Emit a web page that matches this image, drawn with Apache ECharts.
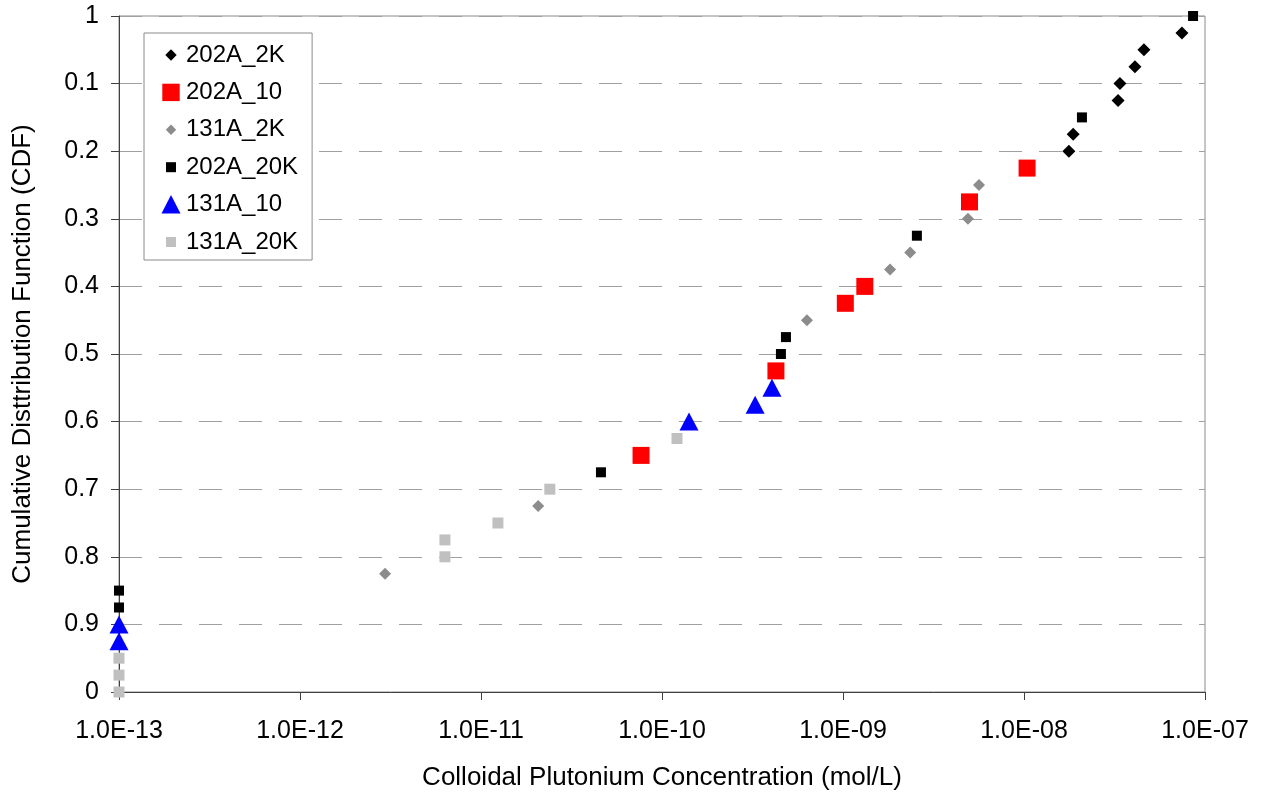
<!DOCTYPE html>
<html>
<head>
<meta charset="utf-8">
<title>Colloidal Plutonium Concentration CDF</title>
<script src="https://cdn.jsdelivr.net/npm/echarts@6/dist/echarts.min.js"></script>
<style>
  html, body { margin: 0; padding: 0; background: #fff; }
  #chart { width: 1265px; height: 794px; }
</style>
</head>
<body>
<div id="chart"></div>
<script>
// Colloidal plutonium concentration (mol/L) and cumulative distribution value per realization set
const x202A_2K = [7.46e-8, 4.60e-8, 4.10e-8, 3.39e-8, 3.31e-8, 1.87e-8, 1.77e-8];
const y202A_2K = [0.025, 0.05, 0.075, 0.1, 0.125, 0.175, 0.2];

const x202A_10 = [1.04e-8, 5.0e-9, 1.32e-9, 1.03e-9, 4.26e-10, 7.66e-11];
const y202A_10 = [0.225, 0.275, 0.4, 0.425, 0.525, 0.65];

const x131A_2K = [5.64e-9, 4.9e-9, 2.35e-9, 1.82e-9, 6.32e-10, 2.07e-11, 2.95e-12];
const y131A_2K = [0.25, 0.3, 0.35, 0.375, 0.45, 0.725, 0.825];

const x202A_20K = [8.59e-8, 2.09e-8, 2.56e-9, 4.84e-10, 4.54e-10, 4.60e-11, 1e-13, 1e-13];
const y202A_20K = [0, 0.15, 0.325, 0.475, 0.5, 0.675, 0.85, 0.875];

const x131A_10 = [4.05e-10, 3.27e-10, 1.41e-10, 1e-13, 1e-13];
const y131A_10 = [0.55, 0.575, 0.6, 0.9, 0.925];

const x131A_20K = [1.21e-10, 2.40e-11, 1.24e-11, 6.32e-12, 6.32e-12, 1e-13, 1e-13, 1e-13];
const y131A_20K = [0.625, 0.7, 0.75, 0.775, 0.8, 0.95, 0.975, 1];

// Tick labels of the CDF axis, top to bottom
const yTickLabels = ['1', '0.1', '0.2', '0.3', '0.4', '0.5', '0.6', '0.7', '0.8', '0.9', '0'];

const FONT = "'Liberation Sans', Arial, sans-serif";

function pairs(xs, ys) {
  return xs.map((x, i) => [x, ys[i]]);
}

function sciLabel(v) {
  const e = Math.round(Math.log10(v));
  const m = v / Math.pow(10, e);
  const sign = e < 0 ? '-' : '+';
  const digits = String(Math.abs(e)).padStart(2, '0');
  return m.toFixed(1) + 'E' + sign + digits;
}

// Legend glyphs: shapes inside a fixed 20x20 box so they keep their relative sizes
const box = 'M0,0M20,20';
const icons = {
  diamondBig: 'path://' + box + 'M10,4.3L15.7,10L10,15.7L4.3,10Z',
  diamondSmall: 'path://' + box + 'M10,4.8L15.2,10L10,15.2L4.8,10Z',
  rectBig: 'path://' + box + 'M1.3,1.3L18.7,1.3L18.7,18.7L1.3,18.7Z',
  rectSmall: 'path://' + box + 'M5,5L15,5L15,15L5,15Z',
  triangle: 'path://' + box + 'M10,0.5L19.5,19L0.5,19Z'
};

const seriesDefs = [
  { name: '202A_2K', data: pairs(x202A_2K, y202A_2K), symbol: 'diamond', size: 13, color: '#000000', icon: icons.diamondBig },
  { name: '202A_10', data: pairs(x202A_10, y202A_10), symbol: 'rect', size: 17, color: '#ff0000', icon: icons.rectBig },
  { name: '131A_2K', data: pairs(x131A_2K, y131A_2K), symbol: 'diamond', size: 12, color: '#8c8c8c', icon: icons.diamondSmall },
  { name: '202A_20K', data: pairs(x202A_20K, y202A_20K), symbol: 'rect', size: 10, color: '#000000', icon: icons.rectSmall },
  { name: '131A_10', data: pairs(x131A_10, y131A_10), symbol: 'triangle', size: [19, 18], color: '#0000ff', icon: icons.triangle },
  { name: '131A_20K', data: pairs(x131A_20K, y131A_20K), symbol: 'rect', size: 11, color: '#c0c0c0', icon: icons.rectSmall }
];

const chart = echarts.init(document.getElementById('chart'), null, { renderer: 'canvas' });

chart.setOption({
  animation: false,
  backgroundColor: '#ffffff',
  textStyle: { fontFamily: FONT },
  grid: {
    left: 119, right: 60, top: 16, bottom: 102,
    containLabel: false,
    outerBoundsMode: 'none',
    show: true, borderColor: '#8a8a8a', borderWidth: 1, backgroundColor: 'transparent'
  },
  legend: {
    orient: 'vertical',
    left: 144, top: 33,
    padding: [10, 14, 6, 17],
    itemWidth: 20, itemHeight: 20, itemGap: 13.4,
    backgroundColor: '#ffffff',
    borderColor: '#8a8a8a', borderWidth: 1,
    textStyle: { fontFamily: FONT, fontSize: 24, color: '#000', lineHeight: 24 },
    data: seriesDefs.map(s => ({ name: s.name, icon: s.icon }))
  },
  xAxis: {
    type: 'log',
    logBase: 10,
    min: 1e-13,
    max: 1e-7,
    name: 'Colloidal Plutonium Concentration (mol/L)',
    nameLocation: 'middle',
    nameGap: 73,
    nameTextStyle: { fontFamily: FONT, fontSize: 26, color: '#000' },
    axisLine: { show: true, onZero: false, lineStyle: { color: '#404040', width: 1 } },
    axisTick: { show: true, inside: false, length: 8, lineStyle: { color: '#404040' } },
    axisLabel: {
      fontFamily: FONT, fontSize: 25, color: '#000', margin: 27,
      formatter: sciLabel
    },
    splitLine: { show: false },
    minorTick: { show: false }
  },
  yAxis: {
    type: 'value',
    inverse: true,
    min: 0,
    max: 1,
    interval: 0.1,
    name: 'Cumulative Disttribution Function (CDF)',
    nameLocation: 'middle',
    nameGap: 83,
    nameTextStyle: { fontFamily: FONT, fontSize: 26, color: '#000' },
    axisLine: { show: true, onZero: false, lineStyle: { color: '#404040', width: 1 } },
    axisTick: { show: true, inside: false, length: 8, lineStyle: { color: '#404040' } },
    axisLabel: {
      fontFamily: FONT, fontSize: 25, color: '#000', margin: 20,
      formatter: v => yTickLabels[Math.round(v * 10)]
    },
    splitLine: {
      show: true,
      lineStyle: { color: '#a0a0a0', width: 1, type: [23, 17] }
    }
  },
  series: seriesDefs.map(s => ({
    name: s.name,
    type: 'scatter',
    clip: false,
    symbol: s.symbol,
    symbolSize: s.size,
    itemStyle: { color: s.color, opacity: 1 },
    emphasis: { disabled: true },
    data: s.data
  }))
});
</script>
</body>
</html>
